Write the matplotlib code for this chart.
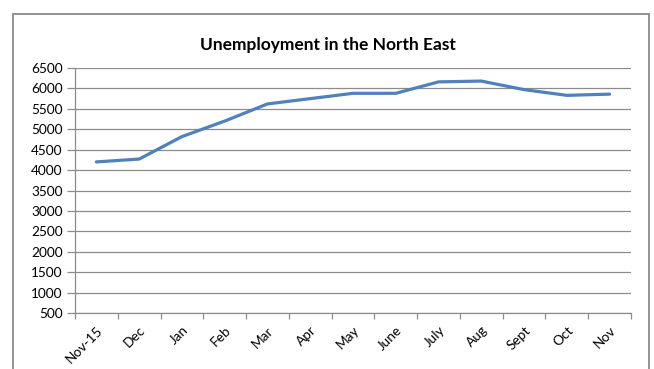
import matplotlib.pyplot as plt
import matplotlib.patches as patches
import numpy as np

months = ["Nov-15", "Dec", "Jan", "Feb", "Mar", "Apr", "May", "June",
          "July", "Aug", "Sept", "Oct", "Nov"]
unemployed = [4200, 4270, 4820, 5200, 5620, 5750, 5880, 5880,
              6160, 6180, 5970, 5830, 5860]
y_ticks = list(range(500, 7000, 500))

plt.rcParams['font.family'] = ['Lato', 'DejaVu Sans']

fig = plt.figure(figsize=(6.54, 3.69), dpi=100)
ax = fig.add_axes([75 / 654, 1 - 313 / 369, 556 / 654, 245 / 369])

x = np.arange(len(months))
ax.plot(x, unemployed, color='#4F81BD', lw=2.3, solid_capstyle='round',
        solid_joinstyle='round')

ax.set_xlim(-0.5, len(months) - 0.5)
ax.set_ylim(500, 6500)
ax.set_yticks(y_ticks)
ax.set_yticklabels([str(v) for v in y_ticks], fontsize=9.8)
ax.set_xticks(x)
ax.set_xticklabels(months, rotation=45, ha='right', rotation_mode='anchor',
                   fontsize=9.8)
ax.set_xticks(np.arange(len(months) + 1) - 0.5, minor=True)

ax.grid(axis='y', color='#8c8c8c', lw=0.9)
ax.set_axisbelow(True)
ax.tick_params(axis='y', length=6, color='#8c8c8c', width=0.9, pad=3)
ax.tick_params(axis='x', which='major', length=0, pad=8)
ax.tick_params(axis='x', which='minor', length=4, color='#8c8c8c', width=0.9)

for side in ['top', 'right']:
    ax.spines[side].set_visible(False)
for side in ['left', 'bottom']:
    ax.spines[side].set_color('#8c8c8c')
    ax.spines[side].set_linewidth(0.9)

fig.text(328 / 654, 1 - 45 / 369, "Unemployment in the North East",
         ha='center', va='center', fontsize=12.5, fontweight='bold')

# chart frame around everything, open at the bottom
frame = patches.Rectangle((13 / 654, -0.05), (649 - 13) / 654, 1 - 14 / 369 + 0.05,
                          transform=fig.transFigure, fill=False,
                          edgecolor='#8a8a8a', lw=1.3, clip_on=False)
fig.patches.append(frame)

fig.savefig('out.png', dpi=100)
